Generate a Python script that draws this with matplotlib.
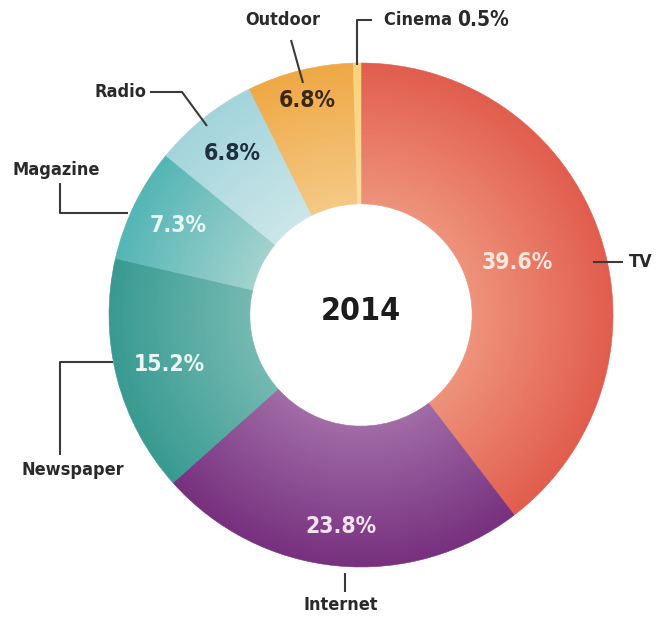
import numpy as np
import matplotlib
matplotlib.use("Agg")
import matplotlib.pyplot as plt
from matplotlib import font_manager as fm
from matplotlib.colors import to_rgb

# Media share of advertising spend, 2014
categories = ["TV", "Internet", "Newspaper", "Magazine", "Radio", "Outdoor", "Cinema"]
shares = [39.6, 23.8, 15.2, 7.3, 6.8, 6.8, 0.5]
year_label = "2014"

# (outer colour, inner colour) for each wedge's radial shading
outer_colors = ["#e15d4e", "#77307f", "#389a92", "#55b5b5", "#a3d4dc", "#efa845", "#f6d27a"]
inner_colors = ["#ee937b", "#a06ca6", "#74b9b1", "#a2d2ce", "#cbe6e8", "#f4c985", "#f9e0a0"]

# percentage label styling: colour and radial position (fraction of outer radius)
pct_colors = ["#fde6da", "#f6e2f4", "#eaf7f4", "#eaf7f5", "#1e2f3f", "#3a2816", None]
pct_radius = [0.655, 0.845, 0.785, 0.81, 0.82, 0.877, None]


def narrow_font(weight="bold"):
    """Pick a condensed/narrow face if one is installed, else DejaVu Sans."""
    want_bold = weight == "bold"
    best = None
    for f in fm.fontManager.ttflist:
        narrow = ("Condensed" in f.name or "Narrow" in f.name
                  or f.stretch in ("condensed", "semi-condensed",
                                   "extra-condensed", "ultra-condensed"))
        if not narrow:
            continue
        is_bold = f.weight in ("bold", 700, "heavy", 800, "semibold", 600)
        if is_bold == want_bold and "Italic" not in f.fname and "Oblique" not in f.fname:
            best = f
            break
    if best is not None:
        return fm.FontProperties(fname=best.fname)
    return fm.FontProperties(family="DejaVu Sans", weight=weight, stretch="condensed")


fp_bold = narrow_font("bold")

W, H = 665, 621
fig = plt.figure(figsize=(W / 100, H / 100), dpi=100)
ax = fig.add_axes([0, 0, 1, 1])


def Y(py):
    """Convert a top-down pixel row into the axes' upward y coordinate."""
    return H - py


cx, cy = 361, Y(315)
R_out, R_in = 252, 112

# radial gradient: many thin concentric rings of the same pie
n_rings = 48
edges = np.linspace(R_in, R_out, n_rings + 1)
for k in range(n_rings):
    t = (k + 0.5) / n_rings
    cols = [tuple((1 - t) * np.array(to_rgb(ci)) + t * np.array(to_rgb(co)))
            for ci, co in zip(inner_colors, outer_colors)]
    r_o = edges[k + 1]
    wedges, _ = ax.pie(shares, radius=r_o, center=(cx, cy), startangle=90,
                       counterclock=False, colors=cols,
                       wedgeprops=dict(width=(edges[1] - edges[0]) * 1.3,
                                       linewidth=0.4))
    for w, c in zip(wedges, cols):
        w.set_edgecolor(c)

ax.set_xlim(0, W)
ax.set_ylim(0, H)
ax.set_aspect("equal")
ax.axis("off")

# percentage labels placed along each wedge's mid-angle
angles = 90 - 3.6 * (np.cumsum(shares) - np.array(shares) / 2)
for cat, val, ang, col, rf in zip(categories, shares, angles, pct_colors, pct_radius):
    if rf is None:
        continue
    a = np.deg2rad(ang)
    x = cx + rf * R_out * np.cos(a)
    y = cy + rf * R_out * np.sin(a)
    ax.text(x, y, f"{val}%", ha="center", va="center", color=col,
            fontproperties=fp_bold, fontsize=16.5)

# centre year label
ax.text(cx, Y(311), year_label, ha="center", va="center", color="#1c1c1c",
        fontproperties=fp_bold, fontsize=23)

# category names with elbow leader lines
line_kw = dict(color="#3a3a3a", lw=1.5, solid_capstyle="butt")
name_kw = dict(color="#2a2a2a", fontproperties=fp_bold, fontsize=13, va="center")

leaders = {
    "TV": ([593, 623], [262, 262], (629, 262), "left"),
    "Internet": ([345, 345], [573, 592], (341, 605), "center"),
    "Newspaper": ([113, 60, 60], [362, 362, 455], (73, 470), "center"),
    "Magazine": ([128, 60, 60], [213, 213, 183], (56, 170), "center"),
    "Radio": ([207, 182, 150], [126, 92, 92], (121, 92), "center"),
    "Outdoor": ([303, 291], [83, 40], (283, 20), "center"),
    "Cinema": ([357, 357, 372], [65, 20, 20], (384, 20), "left"),
}
for cat, (xs, ys, (tx, ty), ha) in leaders.items():
    ax.plot(xs, [Y(v) for v in ys], **line_kw)
    if cat == "Cinema":
        t = ax.text(tx, Y(ty), cat + " ", ha="left", **name_kw)
        ax.annotate(f"{shares[categories.index(cat)]}%", xycoords=t,
                    xy=(1, 0.5), va="center", ha="left",
                    color="#2a2a2a", fontproperties=fp_bold, fontsize=15)
    else:
        ax.text(tx, Y(ty), cat, ha=ha, **name_kw)

fig.savefig("out.png", dpi=100, facecolor="white")
